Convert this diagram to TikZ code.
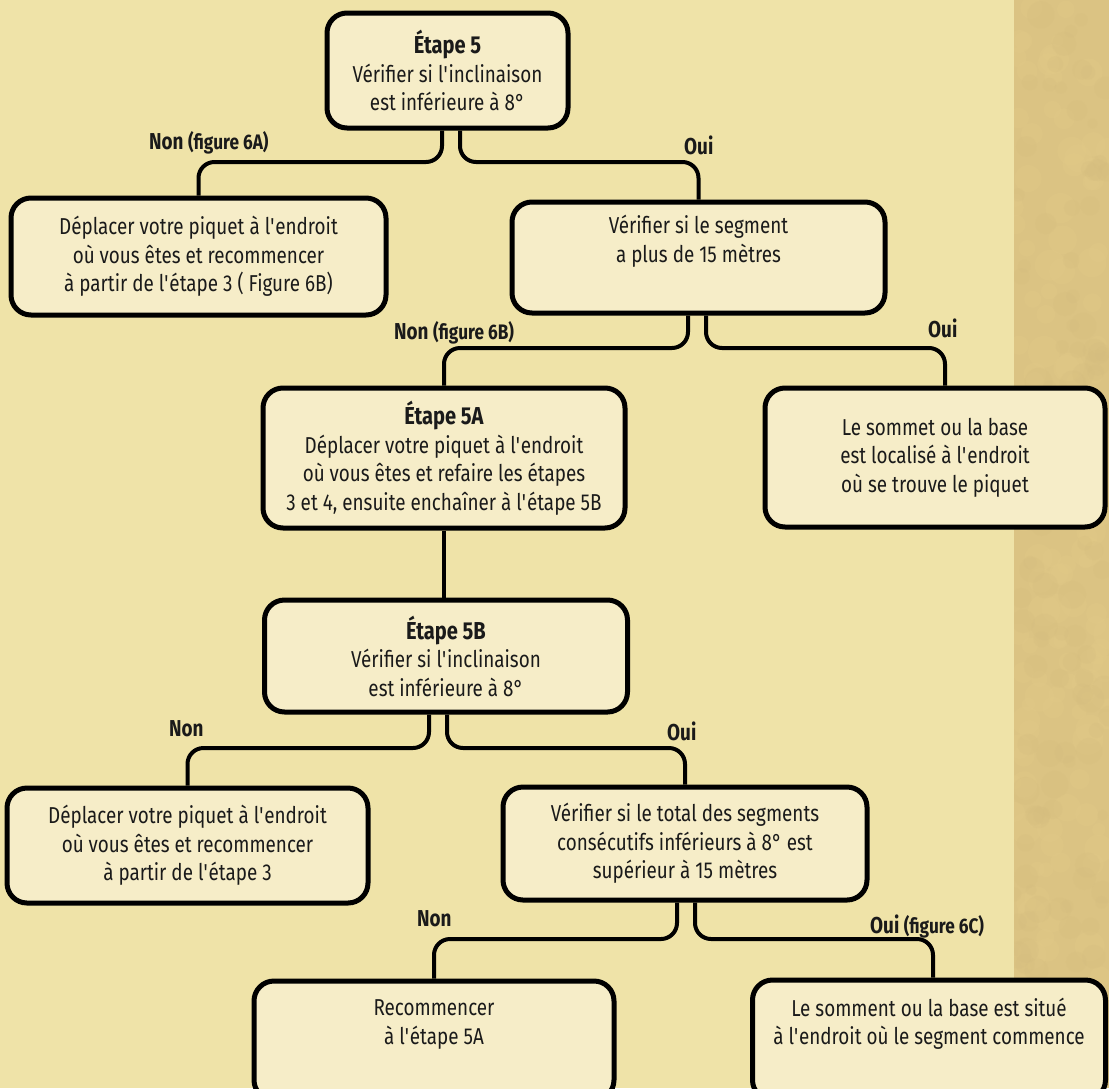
\documentclass[tikz,border=0pt]{standalone}
\usepackage{fontspec}
\setmainfont{Fira Sans}[FakeStretch=0.82]
\usetikzlibrary{calc}
\definecolor{bgc}{HTML}{EFE3A8}
\definecolor{tanc}{HTML}{DBC383}
\definecolor{tanlight}{HTML}{E2CA88}
\definecolor{tandark}{HTML}{D5BD7F}
\definecolor{boxc}{HTML}{F6EDC8}
\definecolor{ink}{HTML}{1A1A1A}
\newcommand{\sq}{\XeTeXglyph\XeTeXcharglyph"0027\relax}
\newcommand{\ttl}[1]{{\fontsize{24.5}{28.5}\selectfont\bfseries #1}}
\tikzset{
  box/.style={draw=black, line width=5pt, fill=boxc, rounded corners=20pt, align=center,
    font=\fontsize{23}{28.5}\selectfont, inner sep=0pt, text=ink},
  conn/.style={draw=black, line width=4pt, rounded corners=16pt},
  lbl/.style={font=\fontsize{23}{28}\selectfont\bfseries, anchor=base west, inner sep=0pt, text=ink},
}
\newcommand{\figtxt}[1]{{\fontsize{21}{24}\selectfont #1}}
\begin{document}
\begin{tikzpicture}[x=1pt,y=-1pt]
\useasboundingbox (0,0) rectangle (1109,1088);
\clip (0,0) rectangle (1109,1088);
% background
\fill[bgc] (0,0) rectangle (1109,1088);
\fill[tanc] (1014,0) rectangle (1109,1088);
\begin{scope}
  \clip (1014,0) rectangle (1109,1088);
  \pgfmathsetseed{7}
  \foreach \i in {1,...,160} {
    \fill[tanlight, opacity=0.3] ({1014+rnd*95},{rnd*1088}) circle ({6+rnd*10});
  }
  \foreach \i in {1,...,120} {
    \fill[tandark, opacity=0.25] ({1014+rnd*95},{rnd*1088}) circle ({5+rnd*9});
  }
\end{scope}

% boxes
\node[box, minimum width=241pt, minimum height=115pt] (b1) at (447.5,70.5)
  {\ttl{Étape 5}\\Vérifier si l\sq inclinaison\\est inférieure à 8°};
\node[box, minimum width=375pt, minimum height=117pt] (b2) at (198.5,256.5)
  {Déplacer votre piquet à l\sq endroit\\où vous êtes et recommencer\\à partir de l\sq étape 3 ( Figure 6B)};
\node[box, minimum width=373pt, minimum height=111pt] (b3) at (698.5,257.5)
  {Vérifier si le segment\\a plus de 15 mètres\\\strut};
\node[box, minimum width=362pt, minimum height=140pt] (b4) at (444,458)
  {\ttl{Étape 5A}\\Déplacer votre piquet à l\sq endroit\\où vous êtes et refaire les étapes\\3 et 4, ensuite enchaîner à l\sq étape 5B};
\node[box, minimum width=340pt, minimum height=139pt] (b5) at (935,457.5)
  {Le sommet ou la base\\est localisé à l\sq endroit\\où se trouve le piquet};
\node[box, minimum width=363pt, minimum height=112pt] (b6) at (446,656)
  {\ttl{Étape 5B}\\Vérifier si l\sq inclinaison\\est inférieure à 8°};
\node[box, minimum width=361pt, minimum height=115pt] (b7) at (187.5,845.5)
  {Déplacer votre piquet à l\sq endroit\\où vous êtes et recommencer\\à partir de l\sq étape 3};
\node[box, minimum width=364pt, minimum height=113pt] (b8) at (685,843.5)
  {Vérifier si le total des segments\\consécutifs inférieurs à 8° est\\supérieur à 15 mètres};
\node[box, minimum width=360pt, minimum height=119pt] (b9) at (434,1040.5)
  {Recommencer\\à l\sq étape 5A\\\strut};
\node[box, minimum width=353pt, minimum height=120pt] (b10) at (929,1040)
  {Le somment ou la base est situé\\à l\sq endroit où le segment commence\\\strut};

% horizontal levels
\coordinate (h1) at (0,162);
\coordinate (h3) at (0,348);
\coordinate (h6) at (0,748);
\coordinate (h8) at (0,939);
% stem starts
\coordinate (s1l) at ([xshift=-5.5pt]b1.south);
\coordinate (s1r) at ([xshift=12.5pt]b1.south);
\coordinate (s3l) at ([xshift=-10.5pt]b3.south);
\coordinate (s3r) at ([xshift=7.5pt]b3.south);
\coordinate (s6l) at ([xshift=-17pt]b6.south);
\coordinate (s6r) at ([xshift=1pt]b6.south);
\coordinate (s8l) at ([xshift=-8pt]b8.south);
\coordinate (s8r) at ([xshift=10pt]b8.south);
\coordinate (t5) at ([xshift=10pt]b5.north);
\coordinate (t10) at ([xshift=4pt]b10.north);

% connectors
\draw[conn] (s1l) -- (s1l |- h1) -- (b2.north |- h1) -- (b2.north);
\draw[conn] (s1r) -- (s1r |- h1) -- (b3.north |- h1) -- (b3.north);
\draw[conn] (s3l) -- (s3l |- h3) -- (b4.north |- h3) -- (b4.north);
\draw[conn] (s3r) -- (s3r |- h3) -- (t5 |- h3) -- (t5);
\draw[conn] (b4.south) -- (b4.south |- b6.north);
\draw[conn] (s6l) -- (s6l |- h6) -- (b7.north |- h6) -- (b7.north);
\draw[conn] (s6r) -- (s6r |- h6) -- (b8.north |- h6) -- (b8.north);
\draw[conn] (s8l) -- (s8l |- h8) -- (b9.north |- h8) -- (b9.north);
\draw[conn] (s8r) -- (s8r |- h8) -- (t10 |- h8) -- (t10);

% labels
\node[lbl] (l1) at (149,149) {Non \figtxt{(figure 6A)}};
\node[lbl] (l2) at (684,154) {Oui};
\node[lbl] (l3) at (394,339) {Non \figtxt{(figure 6B)}};
\node[lbl] (l4) at (928,337) {Oui};
\node[lbl] (l5) at (169,736) {Non};
\node[lbl] (l6) at (667,740) {Oui};
\node[lbl] (l7) at (417,926) {Non};
\node[lbl] (l8) at (870,933) {Oui \figtxt{(figure 6C)}};
\end{tikzpicture}
\end{document}
